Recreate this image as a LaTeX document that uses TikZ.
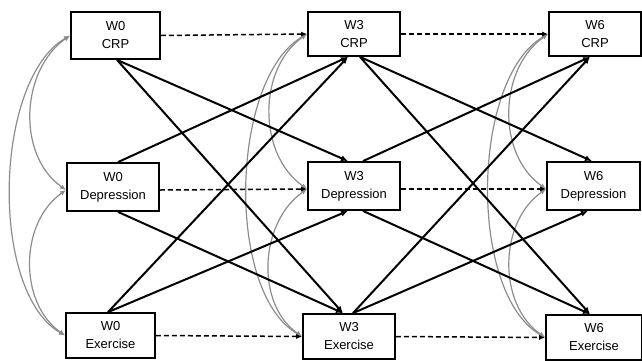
\documentclass[tikz,border=0pt]{standalone}
\usepackage{fontspec}
\setmainfont{Liberation Sans}
\usetikzlibrary{arrows.meta}
\definecolor{cgray}{RGB}{140,140,140}
\begin{document}
\begin{tikzpicture}[x=1pt,y=1pt,
  box/.style={draw, fill=white, line width=1.8pt, inner sep=0pt, align=center, font=\fontsize{13}{18}\selectfont},
  lag/.style={draw, line width=1.5pt, dash pattern=on 5pt off 3pt, -{Latex[length=6pt,width=5pt]}},
  cross/.style={draw, line width=2pt, -{Latex[length=7pt,width=6pt]}},
  cov/.style={draw=cgray, line width=1.2pt, {Latex[length=6pt,width=5pt]}-{Latex[length=6pt,width=5pt]}}]
\useasboundingbox (0,0) rectangle (642,-360);
% nodes
\node[box, minimum width=89pt, minimum height=47pt] (c0) at (115.5,-35.5) {W0\\CRP};
\node[box, minimum width=92pt, minimum height=44pt] (c3) at (354,-34) {W3\\CRP};
\node[box, minimum width=92pt, minimum height=44pt] (c6) at (595,-34) {W6\\CRP};
\node[box, minimum width=92pt, minimum height=48pt] (d0) at (113,-187) {W0\\Depression};
\node[box, minimum width=92pt, minimum height=48pt] (d3) at (354,-186) {W3\\Depression};
\node[box, minimum width=93pt, minimum height=48pt] (d6) at (593.5,-186) {W6\\Depression};
\node[box, minimum width=89pt, minimum height=45pt] (e0) at (110.5,-335.5) {W0\\Exercise};
\node[box, minimum width=92pt, minimum height=45pt] (e3) at (349,-336.5) {W3\\Exercise};
\node[box, minimum width=96pt, minimum height=45pt] (e6) at (594,-337.5) {W6\\Exercise};
% covariances
\foreach \t in {0,3,6}{
  \draw[cov] (c\t.west) to[out=215,in=145] ([yshift=-3pt]d\t.west);
  \draw[cov] ([yshift=-3pt]d\t.west) to[out=215,in=145] (e\t.west);
  \draw[cov] (c\t.west) to[out=210,in=150,looseness=0.75] (e\t.west);
}
% autoregressive (dashed)
\draw[lag] (c0.east) -- (c3.west);
\draw[lag] (c3.east) -- (c6.west);
\draw[lag] ([yshift=-3pt]d0.east) -- ([yshift=-3pt]d3.west);
\draw[lag] ([yshift=-3pt]d3.east) -- ([yshift=-3pt]d6.west);
\draw[lag] (e0.east) -- (e3.west);
\draw[lag] (e3.east) -- (e6.west);
% cross-lagged W0 -> W3
\draw[cross] ([xshift=1.5pt]c0.south) -- ([xshift=-6pt]d3.north);
\draw[cross] ([xshift=1.5pt]c0.south) -- ([xshift=-6pt]e3.north);
\draw[cross] ([xshift=5pt]d0.north) -- ([xshift=-6pt]c3.south);
\draw[cross] ([xshift=5pt]d0.south) -- ([xshift=-6pt]e3.north);
\draw[cross] ([xshift=-2.5pt]e0.north) -- ([xshift=-6pt]c3.south);
\draw[cross] ([xshift=-2.5pt]e0.north) -- ([xshift=-6pt]d3.south);
% cross-lagged W3 -> W6
\draw[cross] ([xshift=6pt]c3.south) -- ([xshift=-1.5pt]d6.north);
\draw[cross] ([xshift=6pt]c3.south) -- ([xshift=-4pt]e6.north);
\draw[cross] ([xshift=9pt]d3.north) -- ([xshift=-5pt]c6.south);
\draw[cross] ([xshift=9pt]d3.south) -- ([xshift=-4pt]e6.north);
\draw[cross] ([xshift=4pt]e3.north) -- ([xshift=-5pt]c6.south);
\draw[cross] ([xshift=4pt]e3.north) -- ([xshift=-5.5pt]d6.south);
\end{tikzpicture}
\end{document}
